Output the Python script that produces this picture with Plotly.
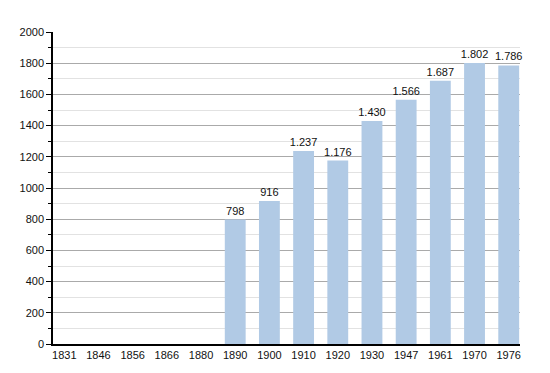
import plotly.graph_objects as go

years = ["1831", "1846", "1856", "1866", "1880", "1890", "1900", "1910", "1920", "1930", "1947", "1961", "1970", "1976"]
population = [None, None, None, None, None, 798, 916, 1237, 1176, 1430, 1566, 1687, 1802, 1786]
labels = ["", "", "", "", "", "798", "916", "1.237", "1.176", "1.430", "1.566", "1.687", "1.802", "1.786"]

fig = go.Figure()
fig.add_trace(go.Bar(
    x=years, y=population, text=labels, textposition="outside",
    textfont=dict(size=11, color="#111111"),
    marker=dict(color="#b1cae5", line=dict(width=0)),
    width=0.61, cliponaxis=False,
))
fig.update_layout(
    width=550, height=373,
    margin=dict(l=41, r=38, t=24, b=37),
    plot_bgcolor="white", paper_bgcolor="white",
    font=dict(family="Liberation Sans, Arial, sans-serif", size=11, color="#111111"),
    showlegend=False,
    uniformtext=dict(minsize=11, mode="show"),
)
fig.update_xaxes(
    type="category", range=[-0.33, 13.33], showline=True, linecolor="black", linewidth=1.5,
    ticks="", showgrid=False, tickfont=dict(size=11),
)
fig.update_yaxes(
    range=[0, 2000], dtick=200, showline=True, linecolor="black", linewidth=1.5,
    ticks="outside", ticklen=5, tickcolor="black",
    showgrid=True, gridcolor="#aaaaaa", gridwidth=1,
    minor=dict(dtick=100, showgrid=True, gridcolor="#e2e2e2", ticks="outside", ticklen=3, tickcolor="black"),
    zeroline=False, tickfont=dict(size=11),
)
fig.write_html("out.html")
